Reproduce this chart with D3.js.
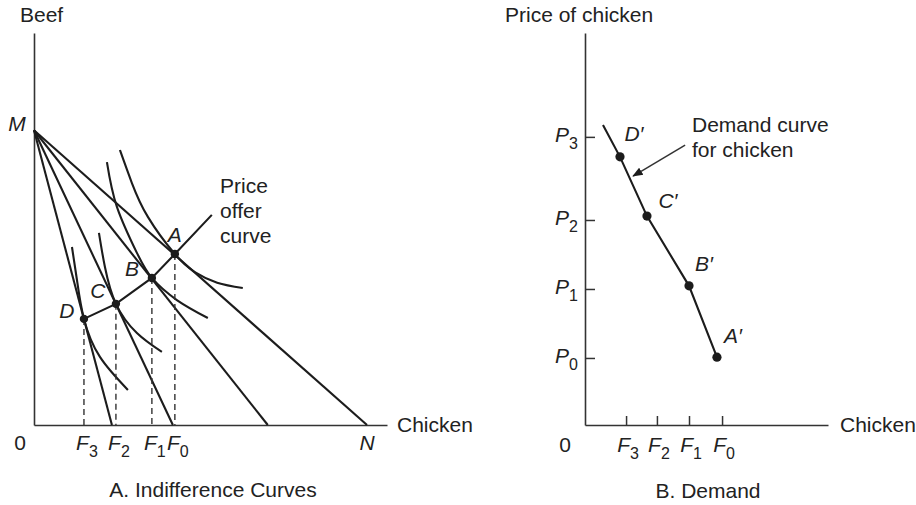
<!DOCTYPE html>
<html>
<head>
<meta charset="utf-8">
<script src="https://cdn.jsdelivr.net/npm/d3@7"></script>
<style>
  body { margin: 0; background: #fff; }
  svg { display: block; font-family: "Liberation Sans", Arial, Helvetica, sans-serif; }
  text { fill: #222; }
</style>
</head>
<body>
<script>
// ---- Panel A: indifference curves (chicken on x, beef on y) ----
const budgetIntercepts = [100, 70.2, 41.7, 23.4];   // chicken intercepts, all start at M
const beefMax = 100;                                  // M
const tangentNames = ["A", "B", "C", "D"];
const tangentX = [42.3, 35.4, 24.6, 15.0];
const tangentY = [58.0, 49.9, 41.1, 36.0];
const fLabels = ["0", "1", "2", "3"];                 // F subscripts for A..D
const offerCurveEnd = [53.4, 71.3];

// indifference curves
const icA = [[25.8, 93.3], [29.4, 82.1], [34.2, 70.6], [42.3, 58.0], [48.3, 51.9], [55.0, 48.3], [62.7, 46.5]];
const icB = [[21.9, 89.2], [24.9, 74.0], [30.9, 58.4], [35.4, 49.9], [42.9, 42.4], [52.2, 36.3]];
const icC = [[19.5, 65.2], [21.3, 53.6], [24.6, 41.1], [30.9, 31.2], [38.4, 24.8]];
const icD = [[11.4, 60.4], [12.9, 49.2], [15.0, 36.0], [19.8, 23.1], [28.2, 11.9]];

// ---- Panel B: demand ----
const demandNames = ["A′", "B′", "C′", "D′"];
const demandQ = [5.43, 4.28, 2.55, 1.44];
const demandP = [1.73, 3.55, 5.33, 6.84];
const demandStart = [0.74, 7.65];
const fTicksB = [5.64, 4.28, 2.96, 1.69];
const pTicksB = [1.71, 3.47, 5.23, 7.35];
const pLabels = ["0", "1", "2", "3"];
const arrowFrom = [4.12, 7.14];
const arrowTo = [1.98, 6.35];

const width = 916, height = 505;
const ink = "#1c1c1c";
const fs = "21px";

const svg = d3.select("body").append("svg")
  .attr("width", width)
  .attr("height", height);

svg.append("defs").append("marker")
  .attr("id", "arrow")
  .attr("viewBox", "0 0 10 10")
  .attr("refX", 9).attr("refY", 5)
  .attr("markerWidth", 7).attr("markerHeight", 7)
  .attr("orient", "auto")
  .append("path")
  .attr("d", "M0,1 L10,5 L0,9 Z")
  .attr("fill", ink);

// subscripted label helper
function subLabel(g, x, y, main, sub, anchor) {
  const t = g.append("text")
    .attr("x", x).attr("y", y)
    .attr("text-anchor", anchor || "middle")
    .style("font-size", fs);
  t.append("tspan").style("font-style", "italic").text(main);
  t.append("tspan").attr("dy", 7).style("font-size", "16px").text(sub);
  return t;
}

// ================= Panel A =================
const xA = d3.scaleLinear().domain([0, 106]).range([34, 387]);
const yA = d3.scaleLinear().domain([0, 133]).range([425, 33]);
const gA = svg.append("g");

// axes
gA.append("g")
  .attr("transform", `translate(0,${yA(0)})`)
  .call(d3.axisBottom(xA).tickValues([]).tickSizeOuter(0))
  .select(".domain").attr("stroke", "#333").attr("stroke-width", 1.6);
gA.append("g")
  .attr("transform", `translate(${xA(0)},0)`)
  .call(d3.axisLeft(yA).tickValues([]).tickSizeOuter(0))
  .select(".domain").attr("stroke", "#333").attr("stroke-width", 1.6);

// budget lines
gA.selectAll(".budget")
  .data(budgetIntercepts)
  .join("line")
  .attr("x1", xA(0)).attr("y1", yA(beefMax))
  .attr("x2", d => xA(d)).attr("y2", yA(0))
  .attr("stroke", ink).attr("stroke-width", 2.1);

// indifference curves
const icLine = d3.line().x(d => xA(d[0])).y(d => yA(d[1])).curve(d3.curveNatural);
gA.selectAll(".ic")
  .data([icA, icB, icC, icD])
  .join("path")
  .attr("d", icLine)
  .attr("fill", "none")
  .attr("stroke", ink).attr("stroke-width", 2.1);

// dashed drops
gA.selectAll(".drop")
  .data(tangentX)
  .join("line")
  .attr("x1", d => xA(d)).attr("x2", d => xA(d))
  .attr("y1", (d, i) => yA(tangentY[i])).attr("y2", yA(0))
  .attr("stroke", "#333").attr("stroke-width", 1.4)
  .attr("stroke-dasharray", "6,4");

// price offer curve
const offerPts = tangentX.map((d, i) => [d, tangentY[i]]).reverse().concat([offerCurveEnd]);
gA.append("path")
  .attr("d", d3.line().x(d => xA(d[0])).y(d => yA(d[1]))(offerPts))
  .attr("fill", "none")
  .attr("stroke", ink).attr("stroke-width", 2.1);

// tangency points
gA.selectAll(".pt")
  .data(tangentX)
  .join("circle")
  .attr("cx", d => xA(d)).attr("cy", (d, i) => yA(tangentY[i]))
  .attr("r", 4.2).attr("fill", ink);

// point labels
const ptOffsets = [[0, -12], [-20, -2], [-18, -6], [-17, -1]];
gA.selectAll(".ptlabel")
  .data(tangentNames)
  .join("text")
  .attr("x", (d, i) => xA(tangentX[i]) + ptOffsets[i][0])
  .attr("y", (d, i) => yA(tangentY[i]) + ptOffsets[i][1])
  .attr("text-anchor", "middle")
  .style("font-size", fs).style("font-style", "italic")
  .text(d => d);

// F labels
tangentX.forEach((d, i) => subLabel(gA, xA(d) + 3, 450, "F", fLabels[i]));

gA.append("text").attr("x", 20).attr("y", 450).attr("text-anchor", "middle")
  .style("font-size", fs).text("0");
gA.append("text").attr("x", xA(budgetIntercepts[0])).attr("y", 450).attr("text-anchor", "middle")
  .style("font-size", fs).style("font-style", "italic").text("N");
gA.append("text").attr("x", 17).attr("y", yA(beefMax) + 1).attr("text-anchor", "middle")
  .style("font-size", fs).style("font-style", "italic").text("M");
gA.append("text").attr("x", 20).attr("y", 22)
  .style("font-size", fs).text("Beef");
gA.append("text").attr("x", 397).attr("y", 432)
  .style("font-size", fs).text("Chicken");

const offerText = gA.append("text").style("font-size", fs);
["Price", "offer", "curve"].forEach((s, i) =>
  offerText.append("tspan").attr("x", 220).attr("y", 193 + i * 25).text(s));

gA.append("text").attr("x", 213).attr("y", 497).attr("text-anchor", "middle")
  .style("font-size", fs).text("A. Indifference Curves");

// ================= Panel B =================
const xB = d3.scaleLinear().domain([0, 10]).range([585, 828]);
const yB = d3.scaleLinear().domain([0, 10]).range([425, 33]);
const gB = svg.append("g");

const axB = gB.append("g")
  .attr("transform", `translate(0,${yB(0)})`)
  .call(d3.axisBottom(xB).tickValues(fTicksB).tickSize(-9).tickSizeOuter(0).tickFormat(""));
const ayB = gB.append("g")
  .attr("transform", `translate(${xB(0)},0)`)
  .call(d3.axisLeft(yB).tickValues(pTicksB).tickSize(-10).tickSizeOuter(0).tickFormat(""));
[axB, ayB].forEach(a => {
  a.select(".domain").attr("stroke", "#333").attr("stroke-width", 1.6);
  a.selectAll(".tick line").attr("stroke", "#333").attr("stroke-width", 1.5);
});

// demand curve
const demandPts = [demandStart].concat(demandQ.map((d, i) => [d, demandP[i]]).reverse());
gB.append("path")
  .attr("d", d3.line().x(d => xB(d[0])).y(d => yB(d[1]))(demandPts))
  .attr("fill", "none")
  .attr("stroke", ink).attr("stroke-width", 2.1);

gB.selectAll(".dpt")
  .data(demandQ)
  .join("circle")
  .attr("cx", d => xB(d)).attr("cy", (d, i) => yB(demandP[i]))
  .attr("r", 4.6).attr("fill", ink);

const dOffsets = [[16, -14], [15, -15], [21, -8], [14, -16]];
gB.selectAll(".dlabel")
  .data(demandNames)
  .join("text")
  .attr("x", (d, i) => xB(demandQ[i]) + dOffsets[i][0])
  .attr("y", (d, i) => yB(demandP[i]) + dOffsets[i][1])
  .attr("text-anchor", "middle")
  .style("font-size", fs).style("font-style", "italic")
  .text(d => d);

// tick labels
fTicksB.forEach((d, i) => subLabel(gB, xB(d) + 2, 452, "F", fLabels[i]));
pTicksB.forEach((d, i) => subLabel(gB, xB(0) - 7, yB(d) + 5, "P", pLabels[i], "end"));

gB.append("text").attr("x", 565).attr("y", 452).attr("text-anchor", "middle")
  .style("font-size", fs).text("0");
gB.append("text").attr("x", 505).attr("y", 22)
  .style("font-size", fs).text("Price of chicken");
gB.append("text").attr("x", 840).attr("y", 432)
  .style("font-size", fs).text("Chicken");

// annotation arrow
gB.append("line")
  .attr("x1", xB(arrowFrom[0])).attr("y1", yB(arrowFrom[1]))
  .attr("x2", xB(arrowTo[0])).attr("y2", yB(arrowTo[1]))
  .attr("stroke", "#333").attr("stroke-width", 1.5)
  .attr("marker-end", "url(#arrow)");
const demText = gB.append("text").style("font-size", fs);
["Demand curve", "for chicken"].forEach((s, i) =>
  demText.append("tspan").attr("x", 692).attr("y", 132 + i * 25).text(s));

gB.append("text").attr("x", 708).attr("y", 498).attr("text-anchor", "middle")
  .style("font-size", fs).text("B. Demand");
</script>
</body>
</html>
